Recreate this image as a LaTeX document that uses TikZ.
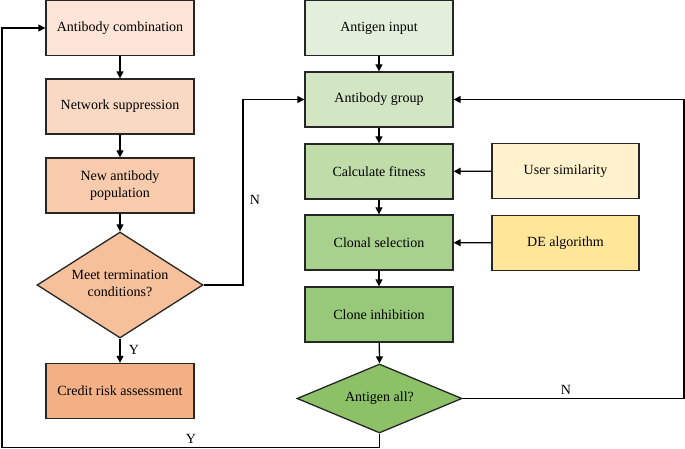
\documentclass[tikz,border=0pt]{standalone}
\usepackage{fontspec}
\setmainfont{Liberation Serif}
\usetikzlibrary{shapes.geometric,arrows.meta}
\definecolor{cA}{HTML}{FCE4D6}
\definecolor{cB}{HTML}{F9D9C4}
\definecolor{cC}{HTML}{F8CBAD}
\definecolor{cD}{HTML}{F5C09A}
\definecolor{cE}{HTML}{F2B084}
\definecolor{gA}{HTML}{E2EFDA}
\definecolor{gB}{HTML}{D2E6C4}
\definecolor{gC}{HTML}{C0DCA8}
\definecolor{gD}{HTML}{A9D18E}
\definecolor{gE}{HTML}{98C97A}
\definecolor{gF}{HTML}{8CC168}
\definecolor{yA}{HTML}{FFF2CC}
\definecolor{yB}{HTML}{FFE699}
\begin{document}
\begin{tikzpicture}[x=1pt,y=-1pt,
  box/.style={draw=black!85,line width=1.3pt,minimum width=148pt,minimum height=55pt,align=center,font=\fontsize{14}{17}\selectfont,inner sep=2pt},
  dia/.style={draw=black!85,line width=1.3pt,diamond,align=center,inner sep=0pt},
  arr/.style={line width=1.3pt,-{Triangle[length=7pt,width=7pt]}},
  lbl/.style={font=\fontsize{14}{17}\selectfont}]
\useasboundingbox (0,0) rectangle (685,449);
% left column
\node[box,fill=cA] (ac) at (120,28) {Antibody combination};
\node[box,fill=cB] (ns) at (120,106.5) {Network suppression};
\node[box,fill=cC] (nap) at (120,185.5) {New antibody\\population};
\node[dia,fill=cD,minimum width=166pt,minimum height=106pt] (mt) at (120,285) {};
\node[lbl,align=center] at (120,283) {Meet termination\\conditions?};
\node[box,fill=cE] (cr) at (120,391) {Credit risk assessment};
% right column
\node[box,fill=gA] (ai) at (379,28) {Antigen input};
\node[box,fill=gB] (ag) at (379,99.5) {Antibody group};
\node[box,fill=gC] (cf) at (379,171.5) {Calculate fitness};
\node[box,fill=gD] (cs) at (379,242.5) {Clonal selection};
\node[box,fill=gE] (ci) at (379,314.5) {Clone inhibition};
\node[dia,fill=gF,minimum width=165pt,minimum height=69pt] (aa) at (379.5,398.5) {};
\node[lbl] at (379.5,398.5) {Antigen all?};
% side boxes
\node[box,fill=yA,minimum width=147pt] (us) at (565.5,171) {User similarity};
\node[box,fill=yB,minimum width=147pt] (de) at (565.5,243) {DE algorithm};
% connectors
\draw[arr] (ac) -- (ns);
\draw[arr] (ns) -- (nap);
\draw[arr] (nap) -- (mt.north);
\draw[arr] (mt.south) -- (cr) node[lbl,pos=0.45,right=5pt] {Y};
\draw[arr] (ai) -- (ag);
\draw[arr] (ag) -- (cf);
\draw[arr] (cf) -- (cs);
\draw[arr] (cs) -- (ci);
\draw[arr] (ci) -- (aa.north);
\draw[arr] (us) -- (cf);
\draw[arr] (de) -- (cs);
\coordinate (n1) at (243,285);
\coordinate (n2) at (243,99.5);
\draw[arr] (mt.east) -- (n1) -- (n2) -- (ag.west);
\node[lbl] at (255,200) {N};
\coordinate (r1) at (684,398.5);
\coordinate (r2) at (684,99.5);
\draw[arr] (aa.east) -- (r1) -- (r2) -- (ag.east);
\node[lbl] at (566,390) {N};
\coordinate (b1) at (379.5,447.5);
\coordinate (b2) at (2,447.5);
\coordinate (b3) at (2,28);
\draw[arr] (aa.south) -- (b1) -- (b2) -- (b3) -- (ac.west);
\node[lbl] at (191,439) {Y};
\end{tikzpicture}
\end{document}
